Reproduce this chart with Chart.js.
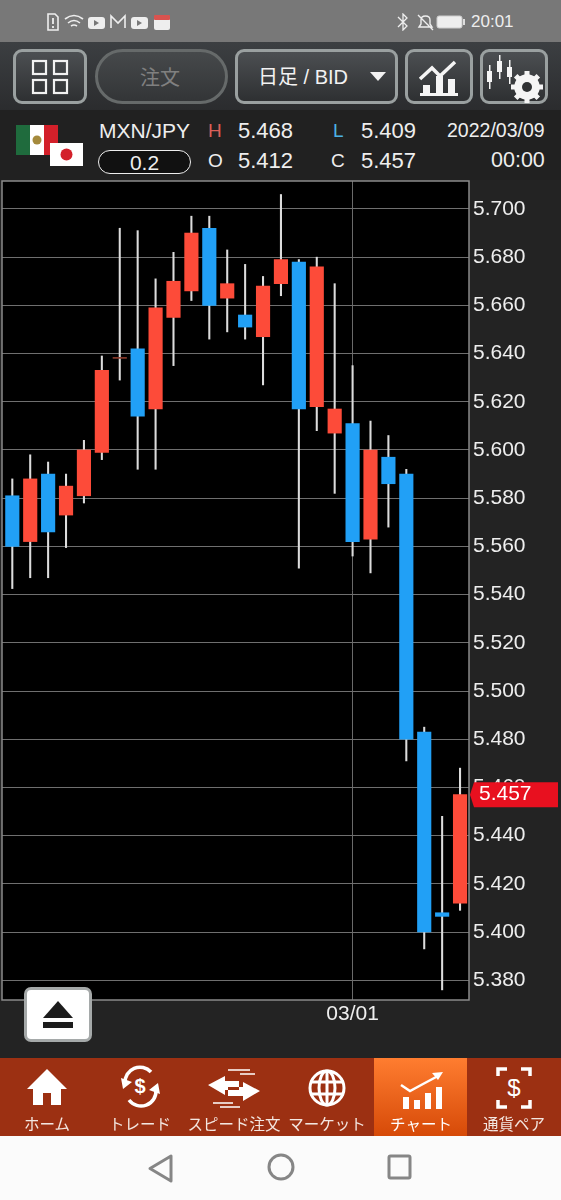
<!DOCTYPE html>
<html lang="ja">
<head>
<meta charset="utf-8">
<title>MXN/JPY</title>
<script src="https://cdn.jsdelivr.net/npm/chart.js@4/dist/chart.umd.min.js"></script>
<style>
html, body { margin: 0; padding: 0; background: #232323; }
#app { position: relative; width: 561px; height: 1200px; overflow: hidden; background: #232323; font-family: "Liberation Sans", "Noto Sans CJK JP", sans-serif; color: #eee; }
#app > * { position: absolute; }
.t { white-space: nowrap; line-height: 1; }
#status { left: 0; top: 0; width: 561px; height: 42px; background: #787878; }
#toolbar { left: 0; top: 42px; width: 561px; height: 68px; background: linear-gradient(#3c3f42, #2b2c2e); }
.btn { box-sizing: border-box; top: 49px; height: 55px; border: 3px solid #9aa0a0; border-radius: 9px; background: linear-gradient(#4c4f52, #2e3032); }
#info { left: 0; top: 110px; width: 561px; height: 70px; background: #212121; }
#chartBox { left: 0; top: 170px; }
#eject { box-sizing: border-box; left: 24px; top: 987px; width: 68px; height: 55px; background: #fff; border: 3px solid #a5a9a9; border-radius: 7px; }
#nav { left: 0; top: 1058px; width: 561px; height: 78px; background: #9c3012; }
#active { left: 374px; top: 1058px; width: 93px; height: 78px; background: linear-gradient(#ff7d30, #d64a08); }
.lab { top: 1116px; width: 100px; text-align: center; font-size: 15.5px; font-family: "Noto Sans CJK JP", sans-serif; color: #f3e6e0; }
#sysbar { left: 0; top: 1136px; width: 561px; height: 64px; background: #fbfbfb; }
</style>
</head>
<body>
<div id="app">
  <div id="status"></div>
  <svg style="left:46px;top:13px" width="130" height="18" viewBox="0 0 130 18">
    <path d="M2 1h7l3 3v13H2z" fill="none" stroke="#eee" stroke-width="1.6"/><path d="M7 5v6M7 13v2" stroke="#eee" stroke-width="1.8"/>
    <path d="M19 6q9-7 18 0M22 10q6-5 12 0M25 13q3-2 6 0" fill="none" stroke="#eee" stroke-width="1.6"/>
    <rect x="42" y="4" width="17" height="12" rx="3" fill="#eee"/><path d="M48 7l5 3-5 3z" fill="#787878"/>
    <path d="M65 15V3l7 7 7-7v12" fill="none" stroke="#eee" stroke-width="1.6"/>
    <rect x="85" y="4" width="17" height="12" rx="3" fill="#eee"/><path d="M91 7l5 3-5 3z" fill="#787878"/>
    <rect x="108" y="5" width="16" height="12" rx="2" fill="#eee"/><rect x="108" y="2" width="16" height="5" rx="1" fill="#d9534f"/>
  </svg>
  <svg style="left:395px;top:13px" width="70" height="18" viewBox="0 0 70 18">
    <path d="M3 4l9 9-4 4V1l4 4-9 9" fill="none" stroke="#eee" stroke-width="1.3"/>
    <path d="M24 14h13l-2-3V7q0-4-4.500-4T26 7v4zM23 2l15 15" fill="none" stroke="#eee" stroke-width="1.4"/>
    <rect x="42" y="3" width="25" height="12" rx="2" fill="#eee" stroke="#ccc"/><rect x="68" y="6" width="2" height="6" fill="#ddd"/>
  </svg>
  <div class="t" style="left:471px;top:13px;font-size:17px;color:#eee">20:01</div>

  <div id="toolbar"></div>
  <div class="btn" style="left:13px;width:74px"></div>
  <svg style="left:31px;top:59px" width="38" height="36" viewBox="0 0 38 36"><g fill="none" stroke="#f2f2f2" stroke-width="2.200"><rect x="2" y="2" width="13" height="13"/><rect x="23" y="2" width="13" height="13"/><rect x="2" y="21" width="13" height="13"/><rect x="23" y="21" width="13" height="13"/></g></svg>
  <div class="btn" style="left:95px;width:133px;border-radius:28px;border-color:#666a6a;background:linear-gradient(#46494b,#333537)"></div>
  <div class="t" style="left:140px;top:67px;font-size:20px;color:#808080;font-family:'Noto Sans CJK JP'">注文</div>
  <div class="btn" style="left:235px;width:163px"></div>
  <div class="t" style="left:258px;top:67px;font-size:20px;color:#f2f2f2">日足 / BID</div>
  <svg style="left:370px;top:72px" width="16" height="9"><path d="M0 0h16l-8 9z" fill="#f2f2f2"/></svg>
  <div class="btn" style="left:405px;width:68px"></div>
  <svg style="left:418px;top:60px" width="42" height="36" viewBox="0 0 42 36"><path d="M2 19L14 8l8 8L37 2" fill="none" stroke="#f5f5f5" stroke-width="3.500"/><path d="M2 36v-3h3v-8h7v8h6V16h7v17h5V19h7v14h3v3z" fill="#f5f5f5"/></svg>
  <div class="btn" style="left:480px;width:68px"></div>
  <svg style="left:484px;top:55px" width="60" height="48" viewBox="0 0 60 48">
    <g fill="#f5f5f5"><rect x="3" y="16" width="5" height="11"/><rect x="5" y="10" width="1.500" height="24"/><rect x="13" y="6" width="5" height="11"/><rect x="15" y="0" width="1.500" height="24"/><rect x="23" y="12" width="5" height="10"/><rect x="25" y="5" width="1.500" height="24"/></g>
    <circle cx="43" cy="32" r="9.500" fill="none" stroke="#f5f5f5" stroke-width="6.500"/>
    <g stroke="#f5f5f5" stroke-width="5"><path d="M43 16v32M27 32h32M31.700 20.700l22.600 22.600M54.300 20.700L31.700 43.300"/></g><circle cx="43" cy="32" r="11" fill="#f5f5f5"/><circle cx="43" cy="32" r="5" fill="#303234"/>
  </svg>

  <div id="info"></div>
  <svg style="left:16px;top:125px" width="68" height="41" viewBox="0 0 68 41">
    <rect x="0" y="0" width="14" height="30" fill="#1f6b3d"/><rect x="14" y="0" width="14" height="30" fill="#fff"/><rect x="28" y="0" width="14" height="30" fill="#d3202a"/>
    <circle cx="21" cy="15" r="4.500" fill="#a58a3c"/>
    <rect x="34" y="18" width="33" height="23" fill="#fff"/><circle cx="50.500" cy="29.500" r="6" fill="#d3202a"/>
  </svg>
  <div class="t" style="left:99px;top:120px;font-size:21px">MXN/JPY</div>
  <div class="t" style="left:208px;top:121px;font-size:19px;color:#d9605a">H</div>
  <div class="t" style="left:238px;top:120px;font-size:22px">5.468</div>
  <div class="t" style="left:333px;top:121px;font-size:19px;color:#4cb2e6">L</div>
  <div class="t" style="left:361px;top:120px;font-size:22px">5.409</div>
  <div class="t" style="left:447px;top:121px;font-size:19.500px">2022/03/09</div>
  <div style="box-sizing:border-box;left:98px;top:150px;width:93px;height:24px;border:1.500px solid #eee;border-radius:12px;background:#111"></div>
  <div class="t" style="left:98px;top:152px;width:93px;text-align:center;font-size:21px">0.2</div>
  <div class="t" style="left:208px;top:151px;font-size:19px">O</div>
  <div class="t" style="left:238px;top:150px;font-size:22px">5.412</div>
  <div class="t" style="left:331px;top:151px;font-size:19px">C</div>
  <div class="t" style="left:361px;top:150px;font-size:22px">5.457</div>
  <div class="t" style="left:491px;top:150px;font-size:21.500px">00:00</div>

  <div id="chartBox"><canvas id="chart" width="561" height="860" style="display:block;width:561px;height:860px"></canvas></div>

  <div id="eject"><svg style="position:absolute;left:15px;top:11px" width="32" height="28"><path d="M16 0l15 17H1z" fill="#1c1c1c"/><rect x="1" y="21" width="30" height="6" fill="#1c1c1c"/></svg></div>

  <div id="nav"></div>
  <div id="active"></div>
  <svg style="left:0;top:1058px" width="561" height="56" viewBox="0 0 561 56" fill="#fff">
    <path d="M47 11L27 31h6v16h10V35h8v12h10V31h6z"/>
    <g fill="none" stroke="#fff" stroke-width="3.500"><path d="M125 25a15 15 0 0 1 26-11M156 32a15 15 0 0 1-27 10"/></g>
    <path d="M121 20l11 4-9 7zM160 36l-11-4 9-7z"/><text x="140" y="35" font-size="20" font-weight="700" text-anchor="middle" font-family="Liberation Sans">$</text>
    <path d="M208 27l17-9v5h14v9h-14v5zM260 33l-17-9v5h-15v9h15v5z"/><path d="M228 12h22M240 16h15M213 45h20M220 49h20" stroke="#fff" stroke-width="1.500"/>
    <g fill="none" stroke="#fff" stroke-width="3"><circle cx="327" cy="30" r="17"/><ellipse cx="327" cy="30" rx="8" ry="17"/><path d="M327 13v34M310 24h34M310 36h34"/></g>
    <path d="M401 27l9 6 13-7 15-8" fill="none" stroke="#fff" stroke-width="2.500"/><path d="M443 14l-11 1 6 7z"/><rect x="403" y="39" width="6" height="12"/><rect x="414" y="42" width="6" height="9"/><rect x="425" y="35" width="6" height="16"/><rect x="436" y="29" width="6" height="22"/>
    <path d="M507 11h-9v7M521 11h9v7M507 49h-9v-7M521 49h9v-7" fill="none" stroke="#fff" stroke-width="3.500"/><text x="514" y="38" font-size="24" text-anchor="middle" font-family="Liberation Sans">$</text>
  </svg>
  <div class="lab t" style="left:-3px">ホーム</div>
  <div class="lab t" style="left:90px">トレード</div>
  <div class="lab t" style="left:184px">スピード注文</div>
  <div class="lab t" style="left:277px">マーケット</div>
  <div class="lab t" style="left:371px;color:#fff">チャート</div>
  <div class="lab t" style="left:464px">通貨ペア</div>

  <div id="sysbar"></div>
  <svg style="left:0;top:1136px" width="561" height="64" fill="none" stroke="#868686" stroke-width="3">
    <path d="M171 20v25l-21-12.500z" stroke-linejoin="round"/>
    <circle cx="281" cy="31" r="12"/>
    <rect x="389" y="20" width="21" height="22" rx="1.500"/>
  </svg>
</div>

<script>
const dates = ['02/02', '02/03', '02/04', '02/07', '02/08', '02/09', '02/10', '02/11', '02/14', '02/15', '02/16', '02/17', '02/18',
    '02/21', '02/22', '02/23', '02/24', '02/25', '02/28', '03/01', '03/02', '03/03', '03/04', '03/07', '03/08', '03/09'];
const opens = [5.581, 5.562, 5.590, 5.573, 5.581, 5.599, 5.638, 5.642, 5.617, 5.655, 5.666, 5.692, 5.663,
    5.656, 5.647, 5.669, 5.678, 5.618, 5.607, 5.611, 5.563, 5.597, 5.590, 5.483, 5.408, 5.412];
const closes = [5.560, 5.588, 5.566, 5.585, 5.600, 5.633, 5.638, 5.614, 5.659, 5.670, 5.690, 5.660, 5.669,
    5.651, 5.668, 5.679, 5.617, 5.676, 5.617, 5.562, 5.600, 5.586, 5.480, 5.400, 5.4065, 5.457];
const highs = [5.588, 5.598, 5.595, 5.590, 5.604, 5.639, 5.692, 5.691, 5.671, 5.682, 5.697, 5.697, 5.683,
    5.677, 5.672, 5.706, 5.679, 5.680, 5.669, 5.635, 5.612, 5.606, 5.592, 5.485, 5.448, 5.468];
const lows = [5.5425, 5.547, 5.547, 5.5595, 5.578, 5.596, 5.629, 5.592, 5.592, 5.635, 5.662, 5.646, 5.649,
    5.646, 5.627, 5.664, 5.551, 5.608, 5.582, 5.556, 5.549, 5.568, 5.471, 5.393, 5.376, 5.409];
const priceTicks = [5.38, 5.40, 5.42, 5.44, 5.46, 5.48, 5.50, 5.52, 5.54, 5.56, 5.58, 5.60, 5.62, 5.64, 5.66, 5.68, 5.70];
const dateTicks = ['03/01'];
const lastPrice = 5.457;

const RED = '#fd4b39', BLUE = '#21a0f6', DOJI = '#8c3b2c', WICK = '#dcdcdc';

// black plot background and frame go under the candles
const plotFrame = {
    id: 'plotFrame',
    beforeDraw(chart) {
        const a = chart.chartArea, ctx = chart.ctx;
        ctx.fillStyle = '#000';
        ctx.fillRect(a.left, a.top, a.width, a.height);
    },
    afterDatasetsDraw(chart) {
        const a = chart.chartArea, ctx = chart.ctx;
        ctx.strokeStyle = '#8a8a8a';
        ctx.lineWidth = 1.5;
        ctx.strokeRect(a.left, a.top, a.width, a.height);
    }
};

// red tag with the last price, sits over the axis labels
const priceTag = {
    id: 'priceTag',
    afterDraw(chart) {
        const ctx = chart.ctx, y = chart.scales.y.getPixelForValue(lastPrice);
        const x = chart.chartArea.right;
        ctx.fillStyle = '#e8101f';
        ctx.beginPath();
        ctx.moveTo(x + 1, y);
        ctx.lineTo(x + 5, y - 12.5);
        ctx.lineTo(558, y - 12.5);
        ctx.lineTo(558, y + 12.5);
        ctx.lineTo(x + 5, y + 12.5);
        ctx.closePath();
        ctx.fill();
        ctx.fillStyle = '#fff';
        ctx.font = '21px "Liberation Sans"';
        ctx.textAlign = 'left';
        ctx.textBaseline = 'middle';
        ctx.fillText(lastPrice.toFixed(3), x + 10, y);
    }
};

function candleColor(i) {
    if (closes[i] > opens[i]) return RED;
    if (closes[i] < opens[i]) return BLUE;
    return DOJI;
}

new Chart(document.getElementById('chart'), {
    type: 'bar',
    data: {
        datasets: [
            {
                label: 'body',
                data: dates.map((d, i) => ({ x: i, y: [opens[i], closes[i]] })),
                backgroundColor: dates.map((d, i) => candleColor(i)),
                barThickness: 13.5,
                minBarLength: 1,
                grouped: false
            },
            {
                label: 'wick',
                data: dates.map((d, i) => ({ x: i, y: [lows[i], highs[i]] })),
                backgroundColor: WICK,
                barThickness: 1.4,
                grouped: false
            }
        ]
    },
    options: {
        responsive: false,
        animation: false,
        layout: { padding: { left: 2, top: 11, right: 0, bottom: 0 } },
        plugins: { legend: { display: false }, tooltip: { enabled: false } },
        scales: {
            x: {
                type: 'linear',
                offset: false,
                min: -0.575,
                max: 25.5,
                afterBuildTicks: s => { s.ticks = dateTicks.map(d => ({ value: dates.indexOf(d) })); },
                afterFit: s => { s.height = 30; s.paddingLeft = 0; s.paddingRight = 0; },
                grid: { offset: false, color: '#6a6a6a', lineWidth: 1, drawTicks: false },
                border: { display: false },
                ticks: {
                    padding: 2,
                    maxRotation: 0,
                    autoSkip: false,
                    color: '#eee',
                    font: { family: 'Liberation Sans', size: 21 },
                    callback: v => dates[v]
                }
            },
            y: {
                position: 'right',
                min: 5.3718,
                max: 5.7116,
                afterBuildTicks: s => { s.ticks = priceTicks.map(v => ({ value: v })); },
                afterFit: s => { s.width = 92; s.paddingTop = 0; s.paddingBottom = 0; },
                grid: { color: '#6f6f6f', lineWidth: 1, drawTicks: false },
                border: { display: false },
                ticks: {
                    padding: 4,
                    color: '#eee',
                    font: { family: 'Liberation Sans', size: 21 },
                    callback: v => v.toFixed(3)
                }
            }
        }
    },
    plugins: [plotFrame, priceTag]
});
</script>
</body>
</html>
